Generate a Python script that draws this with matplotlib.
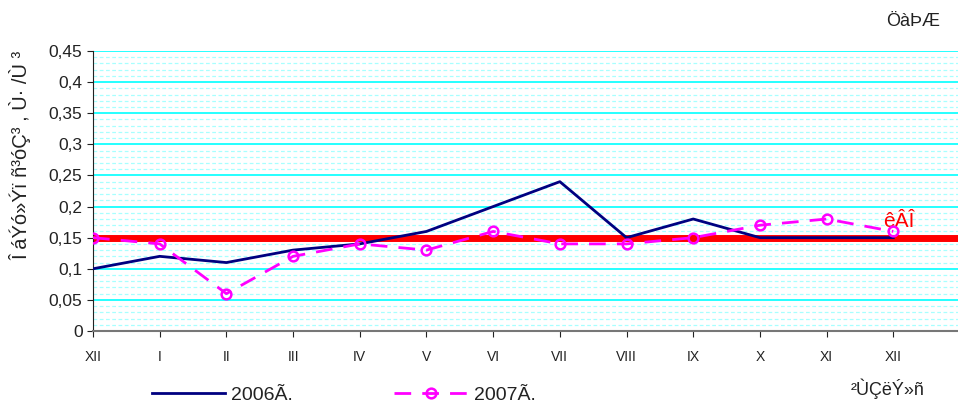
import numpy as np
import matplotlib
matplotlib.use("Agg")
import matplotlib.pyplot as plt
from matplotlib.lines import Line2D

plt.rcParams['font.family'] = ['Liberation Sans', 'DejaVu Sans']

months = ["XII", "I", "II", "III", "IV", "V", "VI", "VII", "VIII", "IX", "X", "XI", "XII"]
y2006 = [0.10, 0.12, 0.11, 0.13, 0.14, 0.16, 0.20, 0.24, 0.15, 0.18, 0.15, 0.15, 0.15]
y2007 = [0.15, 0.14, 0.06, 0.12, 0.14, 0.13, 0.16, 0.14, 0.14, 0.15, 0.17, 0.18, 0.16]
limit = 0.15

fig = plt.figure(figsize=(9.58, 4.05), dpi=100)
ax = fig.add_axes([93 / 958, 1 - 331 / 405, 1 - 93 / 958, (331 - 51) / 405])

x = np.arange(len(months))

# grid
ax.set_ylim(0, 0.45)
ax.set_xlim(0, 12.97)
ax.set_yticks(np.arange(0, 0.451, 0.05))
ax.set_yticks(np.arange(0, 0.451, 0.01), minor=True)
ax.grid(axis='y', which='minor', color='#a8ffff', linestyle=(0, (3, 2)), linewidth=0.9)
ax.grid(axis='y', which='major', color='#00ffff', linestyle='-', linewidth=1.2)
ax.tick_params(axis='y', which='minor', length=0)
ax.set_axisbelow(True)

ax.axhline(limit, color='#ff0000', linewidth=5, zorder=2)
ax.plot(x, y2006, color='#000080', linewidth=2, zorder=3)
ax.plot(x, y2007, color='#ff00ff', linewidth=2, linestyle=(0, (6, 4)),
        marker='o', markersize=7, markerfacecolor='none', markeredgewidth=1.8, zorder=4)

ax.set_xticks(x)
ax.set_xticklabels(months, fontsize=10, color='#222222')
labels = ['0'] + [('%.2f' % v).rstrip('0').replace('.', ',') for v in np.arange(0.05, 0.451, 0.05)]
ax.set_yticklabels(labels, fontsize=12.5, color='#222222')
ax.tick_params(axis='x', length=4, pad=10, color='#222222')
ax.tick_params(axis='y', length=4, color='#222222')

for s in ['top', 'right']:
    ax.spines[s].set_visible(False)
ax.spines['left'].set_color('#222222')
ax.spines['bottom'].set_color('#777777')
ax.spines['bottom'].set_linewidth(1.5)

ax.text(11.85, 0.16, "êÂÎ", color='#ff0000', fontsize=15, ha='left', va='bottom')

fig.text(20 / 958, 1 - 155 / 405, "Î áÝó»Ýï ñ³óÇ³ , Ù· /Ù ³", rotation=90,
         ha='center', va='center', fontsize=14.5, color='#222222')
fig.text(940 / 958, 1 - 22 / 405, "ÖàÞÆ", ha='right', va='center', fontsize=13, color='#222222')
fig.text(925 / 958, 1 - 389 / 405, "²ÙÇëÝ»ñ", ha='right', va='center', fontsize=13, color='#222222')

h1 = Line2D([], [], color='#000080', linewidth=2)
h2 = Line2D([], [], color='#ff00ff', linewidth=2, linestyle=(0, (6, 4)),
            marker='o', markersize=7, markerfacecolor='none', markeredgewidth=1.8)
fig.legend([h1, h2], ["2006Ã.", "2007Ã."], ncol=2, loc='center left',
           bbox_to_anchor=(134 / 958, 1 - 395 / 405), frameon=False,
           handlelength=3.8, columnspacing=5.2, fontsize=14, handletextpad=0.3,
           labelcolor='#222222')

fig.savefig("out.png", dpi=100)
